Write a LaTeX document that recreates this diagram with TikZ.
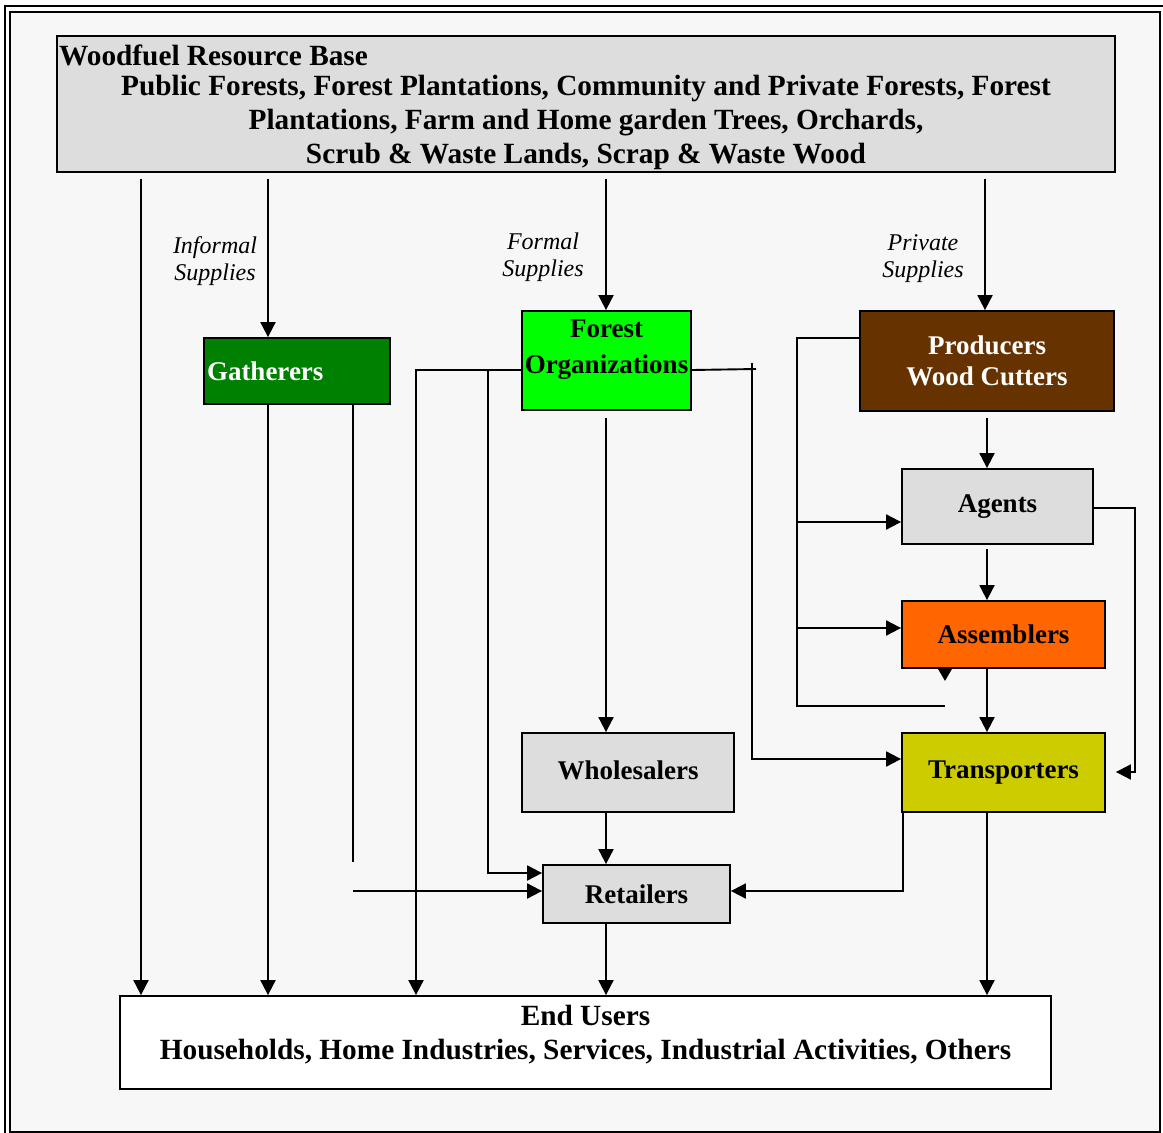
\documentclass[tikz,border=0pt]{standalone}
\usepackage{fontspec}
\setmainfont{Liberation Serif}
\usetikzlibrary{arrows.meta}
\definecolor{bgin}{HTML}{F7F7F7}
\definecolor{boxgrey}{HTML}{DDDDDD}
\definecolor{gathgreen}{HTML}{008000}
\definecolor{orggreen}{HTML}{00FF00}
\definecolor{prodbrown}{HTML}{663300}
\definecolor{asmorange}{HTML}{FF6600}
\definecolor{transyellow}{HTML}{CCCC00}
\begin{document}
\begin{tikzpicture}[x=1pt,y=-1pt,
  box/.style={draw=black, line width=1.8pt, inner sep=0pt, font=\fontsize{27}{34}\selectfont\bfseries, align=center},
  txt/.style={inner sep=0pt, font=\fontsize{27}{36}\selectfont\bfseries, align=center},
  bigtxt/.style={inner sep=0pt, font=\fontsize{29.3}{34}\selectfont\bfseries, align=center},
  lbl/.style={inner sep=0pt, font=\fontsize{24}{27}\selectfont\itshape, align=center},
  conn/.style={line width=1.9pt},
  arr/.style={conn, -{Triangle[length=15pt,width=15pt]}}]
\useasboundingbox (0,0) rectangle (1163,1133);
% frame
\draw[line width=2.2pt] (5,6) rectangle (1180,1150);
\draw[line width=2pt, fill=bgin] (10,12) rectangle (1160,1132);
% boxes
\node[box, fill=boxgrey, minimum width=1058pt, minimum height=136pt] (base) at (586,104) {};
\node[bigtxt, anchor=west] (basettl) at (59,55) {Woodfuel Resource Base};
\node[bigtxt] (basetxt) at (586,122.5) {Public Forests, Forest Plantations, Community and Private Forests, Forest\\Plantations, Farm and Home garden Trees, Orchards,\\Scrub \& Waste Lands, Scrap \& Waste Wood};
\node[box, fill=gathgreen, text=white, minimum width=186pt, minimum height=66pt, text width=180pt, align=left] (gath) at (297,371) {Gatherers};
\node[box, fill=orggreen, minimum width=169pt, minimum height=99pt] (forg) at (606.5,360.5) {};
\node[txt] (forgtxt) at (606.5,350) {Forest\\Organizations};
\node[box, fill=prodbrown, text=white, minimum width=254pt, minimum height=100pt] (prod) at (987,361) {Producers\\[-3pt]Wood Cutters};
\node[box, fill=boxgrey, minimum width=191pt, minimum height=75pt] (ag) at (997.5,506.5) {Agents};
\node[box, fill=asmorange, minimum width=203pt, minimum height=67pt] (asm) at (1003.5,634.5) {Assemblers};
\node[box, fill=transyellow, minimum width=203pt, minimum height=79pt] (trans) at (1003.5,772.5) {\raisebox{4pt}{Transporters}};
\node[box, fill=boxgrey, minimum width=212pt, minimum height=79pt] (wh) at (628,772.5) {\raisebox{4pt}{Wholesalers}};
\node[box, fill=boxgrey, minimum width=187pt, minimum height=58pt] (ret) at (636.5,894) {Retailers};
\node[box, fill=white, minimum width=931pt, minimum height=93pt] (eu) at (585.5,1042.5) {};
\node[bigtxt] (eutxt) at (585.5,1035) {End Users\\Households, Home Industries, Services, Industrial Activities, Others};
% labels
\node[lbl] (linf) at (215,261) {Informal\\Supplies};
\node[lbl] (lfor) at (543,257) {Formal\\Supplies};
\node[lbl] (lpri) at (923,259) {Private\\Supplies};
% free ends
\coordinate (gend) at (353,862);
\coordinate (gstart) at (353,891);
\coordinate (j1) at (488,370);
\coordinate (fkink) at (752,363);
\coordinate (pend) at (945,706);
% connectors from the resource base
\draw[arr, shorten <=6pt] (141,0 |- base.south) -- (141,0 |- eu.north);
\draw[arr, shorten <=6pt] (268,0 |- base.south) -- (268,0 |- gath.north);
\draw[arr, shorten <=6pt] (606,0 |- base.south) -- (606,0 |- forg.north);
\draw[arr, shorten <=6pt] (985,0 |- base.south) -- (985,0 |- prod.north);
% gatherers
\draw[arr] (268,0 |- gath.south) -- (268,0 |- eu.north);
\draw[conn] (353,0 |- gath.south) -- (gend);
\draw[arr] (gstart) -- (gstart -| ret.west);
% forest organizations
\draw[arr] (forg.west |- j1) -- (416,370) -- (416,0 |- eu.north);
\draw[arr] (j1) -- (488,873) -- (ret.west |- 0,873);
\draw[conn] (forg.east |- j1) -- (756,369);
\draw[arr] (fkink) -- (752,759) -- (trans.west |- 0,759);
\draw[arr, shorten <=7pt] (606,0 |- forg.south) -- (606,0 |- wh.north);
\draw[arr] (606,0 |- wh.south) -- (606,0 |- ret.north);
\draw[arr] (606,0 |- ret.south) -- (606,0 |- eu.north);
% producers chain
\draw[conn] (prod.west |- 0,338) -- (797,338) -- (797,706) -- (pend);
\draw[arr] (797,522) -- (ag.west |- 0,522);
\draw[arr] (797,628) -- (asm.west |- 0,628);
\fill (asm.south -| 938,0) -- (asm.south -| 952,0) -- ([yshift=-12pt]asm.south -| 945,0) -- cycle;
\draw[arr, shorten <=6pt] (987,0 |- prod.south) -- (987,0 |- ag.north);
\draw[arr, shorten <=4pt] (987,0 |- ag.south) -- (987,0 |- asm.north);
\draw[arr] (987,0 |- asm.south) -- (987,0 |- trans.north);
\draw[arr, shorten >=10pt] (ag.east |- 0,508) -- (1135,508) -- (1135,772) -- (trans.east |- 0,772);
\draw[arr] (987,0 |- trans.south) -- (987,0 |- eu.north);
\draw[arr] (903,0 |- trans.south) -- (903,891) -- (ret.east |- 0,891);
\end{tikzpicture}
\end{document}
